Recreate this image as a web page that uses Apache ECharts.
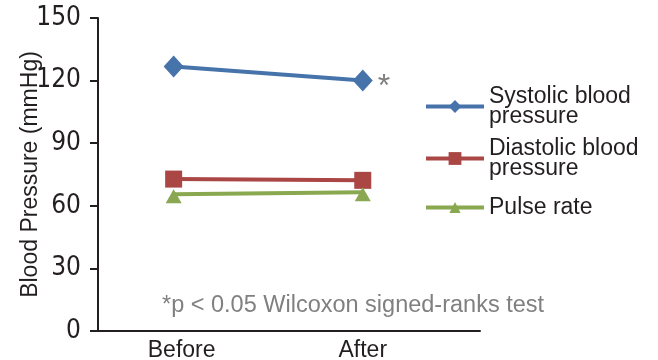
<!DOCTYPE html>
<html>
<head>
<meta charset="utf-8">
<script src="https://cdn.jsdelivr.net/npm/echarts@6/dist/echarts.min.js"></script>
<style>
  html, body { margin: 0; padding: 0; background: #fff; }
  #chart { width: 658px; height: 360px; }
</style>
</head>
<body>
<div id="chart"></div>
<script>
// Measurement times and their positions on the x scale
const categories = ['Before', 'After'];
const positions = [1, 2];

// Mean values at each time point
const systolic = [126.8, 120.0];
const diastolic = [72.8, 72.2];
const pulseRate = [65.5, 66.5];

// Y axis ticks
const yTicks = [0, 30, 60, 90, 120, 150];

const seriesNames = ['Systolic blood\npressure', 'Diastolic blood\npressure', 'Pulse rate'];
const footnote = '*p < 0.05 Wilcoxon signed-ranks test';
const sigMark = '*';

const font = 'Liberation Sans, Arial, sans-serif';
const narrowFont = '"Liberation Sans Narrow", "DejaVu Sans Condensed", "Liberation Sans", sans-serif';
const ink = '#231f20';
const colors = ['#4673aa', '#aa4644', '#8aa84f'];

function pairs(vals) {
  return vals.map((v, i) => [positions[i], v]);
}

const chart = echarts.init(document.getElementById('chart'), null, { renderer: 'canvas' });

const legendText = { color: ink, fontFamily: font, fontSize: 23, lineHeight: 20 };

chart.setOption({
  backgroundColor: '#ffffff',
  animation: false,
  grid: { left: 98, right: 178, top: 18, bottom: 29, containLabel: false, outerBoundsMode: 'none' },
  xAxis: {
    type: 'value',
    min: 0.6,
    max: 2.62,
    splitLine: { show: false },
    axisLine: { show: true, onZero: false, lineStyle: { color: ink, width: 2 } },
    axisTick: { show: false },
    axisLabel: {
      customValues: positions,
      formatter: (v) => {
        const i = positions.indexOf(v);
        return i === 0 ? '{first|' + categories[i] + '}' : (categories[i] || '');
      },
      rich: { first: { padding: [0, 0, 0, 16], fontSize: 23, fontFamily: font, color: ink } },
      color: ink,
      fontFamily: font,
      fontSize: 23,
      margin: 8
    }
  },
  yAxis: {
    type: 'value',
    min: yTicks[0],
    max: yTicks[yTicks.length - 1],
    interval: 30,
    name: 'Blood Pressure (mmHg)',
    nameLocation: 'middle',
    nameGap: 56,
    nameMoveOverlap: false,
    nameTextStyle: { color: ink, fontFamily: font, fontSize: 23 },
    splitLine: { show: false },
    axisLine: { show: true, lineStyle: { color: ink, width: 2 } },
    axisTick: { show: true, inside: false, length: 8, lineStyle: { color: ink, width: 2 } },
    axisLabel: { color: ink, fontFamily: narrowFont, fontSize: 26, margin: 17 }
  },
  legend: [
    {
      orient: 'vertical',
      left: 419,
      top: 80,
      itemWidth: 58,
      itemHeight: 16,
      itemGap: 9,
      lineStyle: { width: 4 },
      textStyle: legendText,
      data: seriesNames.slice(0, 2)
    },
    {
      orient: 'vertical',
      left: 419,
      top: 191,
      itemWidth: 58,
      itemHeight: 14,
      lineStyle: { width: 4 },
      textStyle: legendText,
      data: seriesNames.slice(2)
    }
  ],
  series: [
    {
      name: seriesNames[0],
      type: 'line',
      data: pairs(systolic).map((p, i) => i === 1 ? {
        value: p,
        label: { show: true, position: 'right', distance: 5, formatter: sigMark,
                 color: '#7f7f7f', fontSize: 32, fontFamily: font, offset: [0, 7] }
      } : p),
      symbol: 'diamond',
      symbolSize: [20, 22],
      lineStyle: { width: 4, color: colors[0] },
      itemStyle: { color: colors[0] }
    },
    {
      name: seriesNames[1],
      type: 'line',
      data: pairs(diastolic),
      symbol: 'rect',
      symbolSize: 17,
      lineStyle: { width: 4, color: colors[1] },
      itemStyle: { color: colors[1] }
    },
    {
      name: seriesNames[2],
      type: 'line',
      data: pairs(pulseRate),
      symbol: 'triangle',
      symbolSize: [16, 14],
      symbolOffset: [0, 2],
      lineStyle: { width: 4, color: colors[2] },
      itemStyle: { color: colors[2] }
    }
  ],
  graphic: [
    {
      type: 'text',
      x: 162,
      y: 306,
      style: { text: footnote, fill: '#808080', font: '23.5px ' + font, verticalAlign: 'middle' }
    }
  ]
});
</script>
</body>
</html>
